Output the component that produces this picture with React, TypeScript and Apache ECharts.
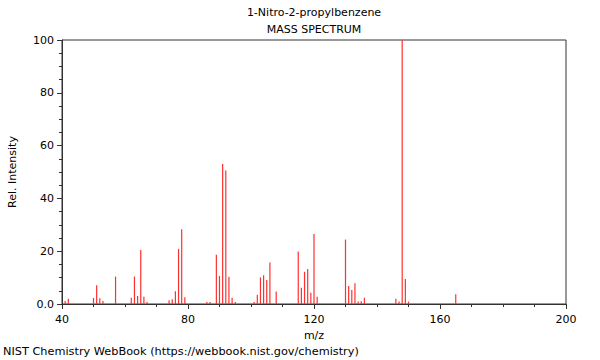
import React, { useEffect, useRef } from "react";
import * as echarts from "echarts";

const mz = [41, 42, 50, 51, 52, 53, 57, 62, 63, 64, 65, 66, 67, 74, 75, 76, 77, 78, 79, 86, 87, 89, 90, 91, 92, 93, 94, 95, 101, 102, 103, 104, 105, 106, 108, 115, 116, 117, 118, 119, 120, 121, 130, 131, 132, 133, 134, 135, 136, 146, 147, 148, 149, 150, 165];
const intensity = [1.1, 2.0, 2.3, 7.1, 2.2, 1.1, 10.4, 2.4, 10.4, 3.0, 20.5, 2.7, 0.8, 1.4, 1.8, 4.8, 20.9, 28.3, 2.6, 0.8, 0.8, 18.7, 10.6, 53.0, 50.6, 10.3, 2.4, 0.8, 0.8, 3.5, 10.1, 10.9, 9.1, 15.7, 4.7, 19.9, 6.2, 12.2, 13.3, 4.3, 26.5, 2.7, 24.4, 6.8, 5.3, 7.9, 0.9, 1.0, 2.4, 2.0, 0.9, 100, 9.5, 0.9, 3.7];
const xTicks = [40, 80, 120, 160, 200];
const yTicks = [0, 20, 40, 60, 80, 100];

const FONT = "DejaVu Sans";

export default function App() {
  const ref = useRef<HTMLDivElement>(null);
  useEffect(() => {
    if (!ref.current) return;
    const chart = echarts.init(ref.current, undefined, { renderer: "svg" });
    const data = mz.map((m, i) => [m, intensity[i]]);
    const ts = { fontFamily: FONT, fontSize: 11, fontWeight: "normal", color: "#000" };
    chart.setOption({
      animation: false,
      backgroundColor: "#ffffff",
      textStyle: { fontFamily: FONT },
      title: [
        { text: "1-Nitro-2-propylbenzene", left: 314, top: 7, padding: 0, textAlign: "center", textStyle: ts },
        { text: "MASS SPECTRUM", left: 314, top: 24, padding: 0, textAlign: "center", textStyle: ts },
        {
          text: "NIST Chemistry WebBook (https://webbook.nist.gov/chemistry)",
          left: 3,
          top: 346,
          padding: 0,
          textStyle: { ...ts, fontSize: 11.3 },
        },
      ],
      grid: {
        left: 62,
        right: 34,
        top: 40,
        bottom: 56,
        show: true,
        borderColor: "#333",
        borderWidth: 1,
        backgroundColor: "transparent",
        outerBoundsMode: "none",
        containLabel: false,
      },
      xAxis: {
        type: "value",
        min: xTicks[0],
        max: xTicks[xTicks.length - 1],
        interval: 40,
        name: "m/z",
        nameLocation: "middle",
        nameGap: 25,
        nameTextStyle: { fontFamily: FONT, fontSize: 11, color: "#000" },
        axisLine: { show: true, lineStyle: { color: "#333" } },
        axisTick: { show: true, inside: false, length: 5, lineStyle: { color: "#333" } },
        minorTick: { show: true, splitNumber: 4, length: 3, lineStyle: { color: "#333" } },
        axisLabel: { fontFamily: FONT, fontSize: 11, color: "#000", margin: 10 },
        splitLine: { show: false },
      },
      yAxis: {
        type: "value",
        min: yTicks[0],
        max: yTicks[yTicks.length - 1],
        interval: 20,
        name: "Rel. Intensity",
        nameLocation: "middle",
        nameGap: 44,
        nameRotate: 90,
        nameTextStyle: { fontFamily: FONT, fontSize: 11, color: "#000" },
        axisLine: { show: true, lineStyle: { color: "#333" } },
        axisTick: { show: true, inside: false, length: 5, lineStyle: { color: "#333" } },
        minorTick: { show: true, splitNumber: 4, length: 3, lineStyle: { color: "#333" } },
        axisLabel: {
          fontFamily: FONT,
          fontSize: 11,
          color: "#000",
          margin: 8,
          formatter: (v: number) => (v === 0 ? "0.0" : String(v)),
        },
        splitLine: { show: false },
      },
      series: [
        {
          type: "bar",
          data,
          barWidth: 1.2,
          itemStyle: { color: "#ff3030" },
          silent: true,
        },
      ],
    });
    return () => chart.dispose();
  }, []);
  return (
    <div
      ref={ref}
      style={{ position: "fixed", left: 0, top: 0, width: 600, height: 360, background: "#fff" }}
    />
  );
}
